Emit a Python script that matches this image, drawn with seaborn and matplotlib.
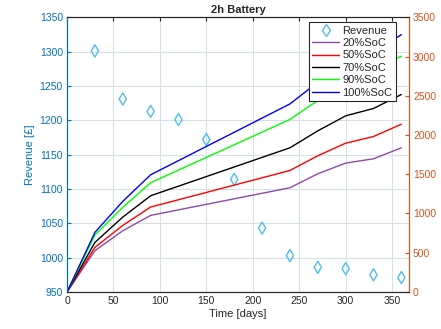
import pandas as pd
import matplotlib
matplotlib.use("Agg")
import matplotlib.pyplot as plt
import seaborn as sns

# Revenue points (left axis)
rev_days = [30, 60, 90, 120, 150, 180, 210, 240, 270, 300, 330, 360]
revenue = [1301, 1231, 1213, 1201, 1172, 1114, 1043, 1003, 986, 984, 975, 971]

# cumulative curves per SoC (right axis)
soc_days = [0, 30, 60, 90, 240, 270, 300, 330, 360]
soc20 = [0, 526, 780, 976, 1328, 1506, 1642, 1697, 1837]
soc50 = [0, 568, 848, 1082, 1548, 1735, 1896, 1981, 2138]
soc70 = [0, 632, 954, 1226, 1837, 2053, 2244, 2338, 2516]
soc90 = [0, 725, 1078, 1392, 2198, 2440, 2680, 2850, 3004]
soc100 = [0, 759, 1154, 1493, 2396, 2672, 2880, 3057, 3279]
soc_labels = ['20%SoC', '50%SoC', '70%SoC', '90%SoC', '100%SoC']
soc_colors = ['#8E4BA6', '#FF0000', '#000000', '#00FF00', '#0000FF']

sns.set_style("white")
plt.rcParams['font.family'] = ['Liberation Sans', 'DejaVu Sans']

left_col = '#0072BD'
right_col = '#D95319'

rev_df = pd.DataFrame({'day': rev_days, 'revenue': revenue})
soc_df = pd.concat([
    pd.DataFrame({'day': soc_days, 'value': vals, 'soc': lab})
    for vals, lab in zip([soc20, soc50, soc70, soc90, soc100], soc_labels)
])

fig = plt.figure(figsize=(4.41, 3.29), dpi=100)
ax = fig.add_axes([0.152, 0.1125, 0.775, 0.835])
ax2 = ax.twinx()

sns.scatterplot(data=rev_df, x='day', y='revenue', ax=ax, marker='d', s=38,
                facecolor='none', edgecolor='#4DBEEE', linewidth=1.0, zorder=3)
sns.lineplot(data=soc_df, x='day', y='value', hue='soc', palette=dict(zip(soc_labels, soc_colors)),
             ax=ax2, linewidth=1.0, legend=False)

ax.set_xlim(0, 368)
ax.set_ylim(950, 1350)
ax2.set_ylim(0, 3500)
ax.set_xticks(range(0, 351, 50))
ax.set_yticks(range(950, 1351, 50))
ax2.set_yticks(range(0, 3501, 500))

ax.grid(True, color='#D8E0E8', linewidth=0.8)
ax.set_axisbelow(True)

ax.set_xlabel('Time [days]', fontsize=8, color='#262626', labelpad=2)
ax.set_ylabel('Revenue [£]', fontsize=8, color=left_col, labelpad=3)
ax2.set_ylabel('')
ax.set_title('2h Battery', fontsize=8, fontweight='bold', pad=3)

ax.tick_params(axis='x', direction='in', top=True, labelsize=7.5, colors='#262626', length=3, pad=3)
ax.tick_params(axis='y', direction='in', labelsize=7.5, colors=left_col, length=3, pad=3)
ax2.tick_params(axis='y', direction='in', labelsize=7.5, colors=right_col, length=3, pad=3)

for a in (ax, ax2):
    for s in a.spines.values():
        s.set_linewidth(0.8)
    a.spines['top'].set_color('#262626')
    a.spines['bottom'].set_color('#262626')
ax.spines['left'].set_color(left_col)
ax2.spines['left'].set_color(left_col)
ax2.spines['right'].set_color(right_col)
ax.spines['right'].set_color(right_col)

handles = [plt.Line2D([], [], marker='d', linestyle='none', markerfacecolor='none',
                      markeredgecolor='#4DBEEE', markersize=6)]
handles += [plt.Line2D([], [], color=c, linewidth=1.0) for c in soc_colors]
leg = ax2.legend(handles, ['Revenue'] + soc_labels, loc='upper right',
                 bbox_to_anchor=(0.962, 0.982), fontsize=8,
                 frameon=True, fancybox=False, edgecolor='#262626', framealpha=1,
                 handlelength=2.4, handletextpad=0.3, labelspacing=0.22,
                 borderpad=0.3, borderaxespad=0)
leg.get_frame().set_linewidth(0.8)

fig.savefig('out.png', dpi=100)
